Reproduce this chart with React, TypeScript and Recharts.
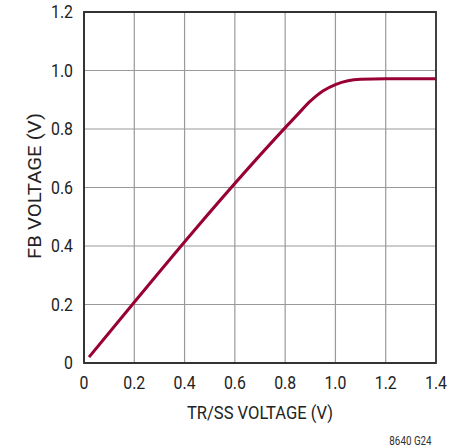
import React from 'react';
import { LineChart, Line, XAxis, YAxis, CartesianGrid, ReferenceArea } from 'recharts';

const trssVoltage = [0.02, 0.85, 0.9, 0.95, 1.0, 1.05, 1.1, 1.2, 1.3, 1.4];
const fbVoltage = [0.02, 0.85, 0.895, 0.93, 0.952, 0.965, 0.97, 0.972, 0.972, 0.972];
const xTicks = [0, 0.2, 0.4, 0.6, 0.8, 1.0, 1.2, 1.4];
const yTicks = [0, 0.2, 0.4, 0.6, 0.8, 1.0, 1.2];

const data = trssVoltage.map((x, i) => ({ x, y: fbVoltage[i] }));

const FONT = 'Roboto, "Liberation Sans", Arial, sans-serif';
const SX = 0.88;

const fmt = (v: number) => (v === 0 ? '0' : v.toFixed(1));

const XTick = (props: any) => {
  const { x, y, payload } = props;
  return (
    <text
      transform={`translate(${x}, ${y + 26}) scale(${SX}, 1)`}
      textAnchor="middle"
      fill="#222"
      fontSize={18}
      fontFamily={FONT}
    >
      {fmt(payload.value)}
    </text>
  );
};

const YTick = (props: any) => {
  const { x, y, payload } = props;
  return (
    <text
      transform={`translate(${x}, ${y + 6.4}) scale(${SX}, 1)`}
      textAnchor="end"
      fill="#222"
      fontSize={18}
      fontFamily={FONT}
    >
      {fmt(payload.value)}
    </text>
  );
};

export default function App() {
  return (
    <div style={{ position: 'fixed', left: 0, top: 0, width: 463, height: 448, background: '#fff' }}>
      <LineChart
        width={463}
        height={448}
        data={data}
        margin={{ top: 12, right: 27, bottom: 35, left: 24 }}
      >
        <CartesianGrid stroke="#999" strokeWidth={1.2} vertical horizontal />
        <XAxis
          type="number"
          dataKey="x"
          domain={[0, 1.4]}
          ticks={xTicks}
          height={50}
          tickSize={0}
          tickMargin={0}
          tickLine={false}
          axisLine={{ stroke: '#333', strokeWidth: 1.8 }}
          tick={<XTick />}
          interval={0}
        />
        <YAxis
          type="number"
          domain={[0, 1.2]}
          ticks={yTicks}
          width={60}
          tickSize={0}
          tickMargin={11}
          tickLine={false}
          axisLine={{ stroke: '#333', strokeWidth: 1.8 }}
          tick={<YTick />}
          interval={0}
        />
        <ReferenceArea x1={0} x2={1.4} y1={0} y2={1.2} fill="none" stroke="#333" strokeWidth={1.8} ifOverflow="visible" />
        <Line
          type="monotone"
          dataKey="y"
          stroke="#990033"
          strokeWidth={3}
          dot={false}
          isAnimationActive={false}
        />
        <text
          x={260}
          y={419}
          textAnchor="middle"
          fill="#222"
          fontSize={17.5}
          fontFamily={FONT}
          textLength={146}
          lengthAdjust="spacingAndGlyphs"
        >
          TR/SS VOLTAGE (V)
        </text>
        <text
          x={0}
          y={0}
          textAnchor="middle"
          fill="#222"
          fontSize={17.5}
          fontFamily={FONT}
          textLength={146}
          lengthAdjust="spacingAndGlyphs"
          transform="translate(41, 186) rotate(-90)"
        >
          FB VOLTAGE (V)
        </text>
        <text
          x={0}
          y={0}
          textAnchor="middle"
          fill="#333"
          fontSize={12}
          fontFamily={FONT}
          transform="translate(410.5, 444.5) scale(0.82, 1)"
        >
          8640 G24
        </text>
      </LineChart>
    </div>
  );
}
